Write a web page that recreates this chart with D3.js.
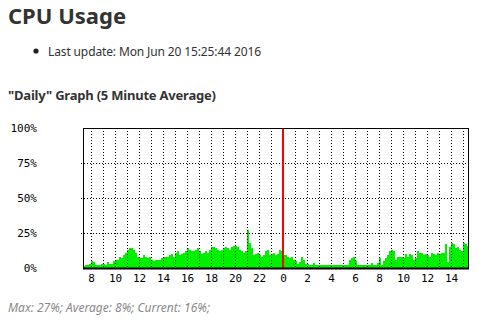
<!DOCTYPE html>
<html>
<head>
  <meta charset="utf-8">
  <title>cpu-usage</title>
  <style>
    * { margin: 0; padding: 0; }
    body { width: 492px; height: 329px; background: #fff; overflow: hidden; }
    svg { display: block; }
  </style>
</head>
<body>
  <svg id="svg"></svg>
  <script src="https://cdnjs.cloudflare.com/ajax/libs/d3/7.8.5/d3.min.js"></script>
  <script>
    // cpu %, one value per 10 minutes, starting 19 Jun 07:20
    const day1 = [
      1.5, 2, 2, 3, 5, 4, 2, 2, 2, 3, 3, 2, 4, 3, 3, 5, 6, 6, 8, 7, 9, 11, 13, 14, 14, 13, 11, 8, 7, 7, 9, 8, 7,
      8, 6, 5, 6, 6, 6, 7, 8, 8, 8, 9, 10, 8, 11, 12, 9, 10, 11, 12, 14, 13, 12, 12, 13, 14, 12, 10, 11, 12, 11, 13, 15,
      15, 14, 13, 12, 13, 14, 15, 14, 13, 15, 16, 16, 15, 13, 12, 11, 12, 27, 18, 14, 9, 10, 11, 9, 8, 9, 12, 13, 9, 10, 11, 9, 10,
      13, 12
    ];
    // from midnight 20 Jun to 15:30
    const day2 = [
      9, 9, 8, 7, 8, 6, 5, 3, 4, 8, 6, 3, 3,
      2.5, 2.5, 3.5, 2.5, 2.5, 2.5, 2.5, 2.5, 2.5, 2.5, 2.5, 2.5, 2.5, 2.5, 2.5, 2.5, 2.5,
      2.5, 2.5, 2.5, 6, 7, 8, 5, 2.5, 2.5, 2.5, 2.5, 2.5, 2.5, 2.5, 3.5, 2.5, 2.5,
      3.5, 7, 2.5, 5, 7, 9, 12, 13, 12, 6, 8, 8, 8, 7, 10, 8,
      10, 9, 6, 7, 12, 11, 11, 9, 10, 9, 8, 11, 10, 9, 11, 10, 11, 11, 17, 4, 15, 18, 17, 14, 15, 13, 12, 18, 17, 16
    ];
    const yTicks = [0, 25, 50, 75, 100];
    const title = 'CPU Usage';
    const lastUpdate = 'Last update: Mon Jun 20 15:25:44 2016';
    const graphTitle = '"Daily" Graph (5 Minute Average)';
    const summary = 'Max: 27%; Average: 8%; Current: 16%;';

    const start = new Date(2016, 5, 19, 7, 20);
    const midnight = new Date(2016, 5, 20, 0, 0);
    const end = new Date(2016, 5, 20, 15, 30);
    const step = 10 * 60 * 1000;

    const data = day1.concat(day2).map((v, i) => ({ t: new Date(+start + i * step), v }));
    data.push({ t: end, v: data[data.length - 1].v });

    const dim = { width: 492, height: 329, left: 83, right: 469, top: 128, bottom: 268 };

    const svg = d3.select('#svg').attr('width', dim.width).attr('height', dim.height);

    const x = d3.scaleTime().domain([start, end]).range([dim.left, dim.right]);
    const y = d3.scaleLinear().domain([0, 100]).range([dim.bottom, dim.top]);

    // page texts
    svg.append('text').attr('x', 8).attr('y', 24)
      .style('font', 'bold 22px "Noto Sans"').attr('fill', '#333').text(title);
    svg.append('circle').attr('cx', 36).attr('cy', 51).attr('r', 2.6).attr('fill', '#222');
    svg.append('text').attr('x', 48).attr('y', 55.5)
      .style('font', '12px "Noto Sans"').attr('fill', '#333')
      .attr('textLength', 213).text(lastUpdate);
    svg.append('text').attr('x', 8).attr('y', 100)
      .style('font', 'bold 13px "Noto Sans"').attr('fill', '#333')
      .attr('textLength', 208).text(graphTitle);
    svg.append('text').attr('x', 8).attr('y', 312)
      .style('font', 'italic 12px "Noto Sans"').attr('fill', '#8a8a8a')
      .attr('textLength', 202).text(summary);

    // green area
    const area = d3.area().curve(d3.curveStepAfter)
      .x(d => x(d.t)).y0(y(0)).y1(d => y(d.v));
    svg.append('path').datum(data).attr('d', area).attr('fill', '#00f000')
      .attr('shape-rendering', 'crispEdges');

    // grid (midnight gets the red marker instead)
    const hours = d3.timeHour.range(d3.timeHour.ceil(start), end);
    const grid = svg.append('g').attr('shape-rendering', 'crispEdges');
    grid.selectAll('.vg').data(hours.filter(d => +d !== +midnight)).enter().append('line').attr('class', 'vg')
      .attr('x1', d => Math.round(x(d)) + 0.5).attr('x2', d => Math.round(x(d)) + 0.5)
      .attr('y1', dim.top).attr('y2', dim.bottom)
      .attr('stroke', '#000').attr('stroke-dasharray', '1,2');
    grid.selectAll('.hg').data(yTicks.slice(1, -1)).enter().append('line').attr('class', 'hg')
      .attr('x1', dim.left - 2).attr('x2', dim.right)
      .attr('y1', d => Math.round(y(d)) + 0.5).attr('y2', d => Math.round(y(d)) + 0.5)
      .attr('stroke', '#000').attr('stroke-dasharray', '1,2');

    // midnight marker
    svg.append('line')
      .attr('x1', Math.round(x(midnight))).attr('x2', Math.round(x(midnight)))
      .attr('y1', dim.top).attr('y2', dim.bottom)
      .attr('stroke', '#ff0000').attr('stroke-width', 2);

    // frame
    svg.append('rect').attr('x', dim.left + 0.5).attr('y', dim.top + 0.5)
      .attr('width', dim.right - dim.left - 1).attr('height', dim.bottom - dim.top)
      .attr('fill', 'none').attr('stroke', '#000').attr('shape-rendering', 'crispEdges');
    svg.append('line').attr('x1', dim.left).attr('x2', dim.right)
      .attr('y1', dim.bottom + 0.5).attr('y2', dim.bottom + 0.5)
      .attr('stroke', '#000').attr('stroke-width', 2);

    // axes labels
    const xAxis = d3.axisBottom(x)
      .tickValues(hours.filter(d => d.getHours() % 2 === 0))
      .tickFormat(d3.timeFormat('%-H')).tickSize(0).tickPadding(6);
    const gx = svg.append('g').attr('transform', `translate(0,${dim.bottom})`).call(xAxis);
    gx.select('.domain').remove();
    gx.selectAll('text').style('font', '11px "DejaVu Sans Mono"').attr('fill', '#000');

    const yAxis = d3.axisLeft(y).tickValues(yTicks).tickFormat(d => d + '%')
      .tickSize(0).tickPadding(46);
    const gy = svg.append('g').attr('transform', `translate(${dim.left},0)`).call(yAxis);
    gy.select('.domain').remove();
    gy.selectAll('text').style('font', '11px "DejaVu Sans Mono"').attr('fill', '#000');
  </script>
</body>
</html>
